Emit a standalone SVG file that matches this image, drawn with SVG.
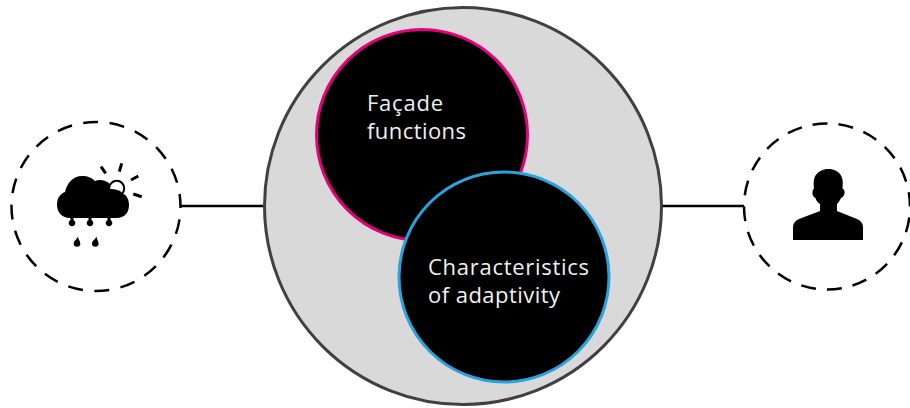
<svg xmlns="http://www.w3.org/2000/svg" width="910" height="408" viewBox="0 0 910 408">
<style>
.lbl{font-family:"Open Sans","Noto Sans",sans-serif;font-size:22px;fill:#f0f0f0}
.dash{fill:#fff;stroke:#000;stroke-width:2.500}
.conn{fill:none;stroke:#000;stroke-width:2.500}
.ray{fill:none;stroke:#000;stroke-width:3}
</style>
<rect width="910" height="408" fill="#fff"/>
<g id="connectors">
<path class="conn" d="M180 206H265"/>
<path class="conn" d="M661 206H746"/>
</g>
<g id="outer"><circle cx="463" cy="206" r="198.500" fill="#d9d9d9" stroke="#404040" stroke-width="3"/></g>
<g id="facade-functions">
<circle cx="422" cy="135" r="105.500" fill="#000" stroke="#e6007e" stroke-width="3"/>
<text class="lbl" x="367" y="111" textLength="76">Façade</text>
<text class="lbl" x="367" y="139" textLength="99">functions</text>
</g>
<g id="characteristics">
<circle cx="504" cy="277" r="105" fill="#000" stroke="#29a3dc" stroke-width="3"/>
<text class="lbl" x="428" y="275" textLength="161">Characteristics</text>
<text class="lbl" x="428" y="303" textLength="132">of adaptivity</text>
</g>
<g id="weather">
<circle cx="96" cy="206.500" r="84.500" class="dash" fill="none" stroke-dasharray="15 11.550" stroke-dashoffset="-13"/>
<circle cx="116.700" cy="188.300" r="7.500" fill="#fff" stroke="#000" stroke-width="2"/>
<path fill="#000" d="M70 218C62 218 57 212 57 205 57 198 60 194 65 192 67 183 73 176 82 176 88 176 92 178 95 181 99 179 106 180 110 184L110 189C115 189 120 190 122 193 127 195 129 200 129 205 129 213 124 218 117 218Z"/>
<path class="ray" d="M101 166.700L105.700 173.300M121.700 163.300L119.300 171.700M138.300 176L131 180M133.300 194L141.700 196.700"/>
<g fill="#000">
<path d="M70.500 218H73.500V220A3.300 3.300 0 1 1 70.500 220Z"/>
<path d="M88.500 218H91.500V220A3.300 3.300 0 1 1 88.500 220Z"/>
<path d="M107.500 218H110.500V220A3.300 3.300 0 1 1 107.500 220Z"/>
<path d="M78 236.500C78 239 80.300 241 80.300 243.500A3.300 3.300 0 0 1 73.700 243.500C73.700 241 77 239 78 236.500Z"/>
<path d="M96.500 236.500C96.500 239 98.600 241 98.600 243.500A3.300 3.300 0 0 1 92 243.500C92 241 95.500 239 96.500 236.500Z"/>
</g>
</g>
<g id="person">
<circle cx="827" cy="206.500" r="83" class="dash" stroke-dasharray="15 11.070" stroke-dashoffset="-11"/>
<path fill="#000" d="M793 240V228C793 223 795 221 799 219L820 211V204C817 202 816 200 815.500 198 813 197 812 194 812.500 191.500 812.500 190 813.500 189 814 188.500 813.500 183 813.500 180 815 176.500 817.500 171.500 823 169 828.500 169 834 169 839.500 171.500 841.500 176.500 843 180 843 183 842.500 188.500 843.500 189 844.500 190 844.500 191.500 845 194 843.500 197 841 198 840 200 839 202 837 204V211L857 219C861 221 863 223 863 228V240Z"/>
</g>
</svg>
